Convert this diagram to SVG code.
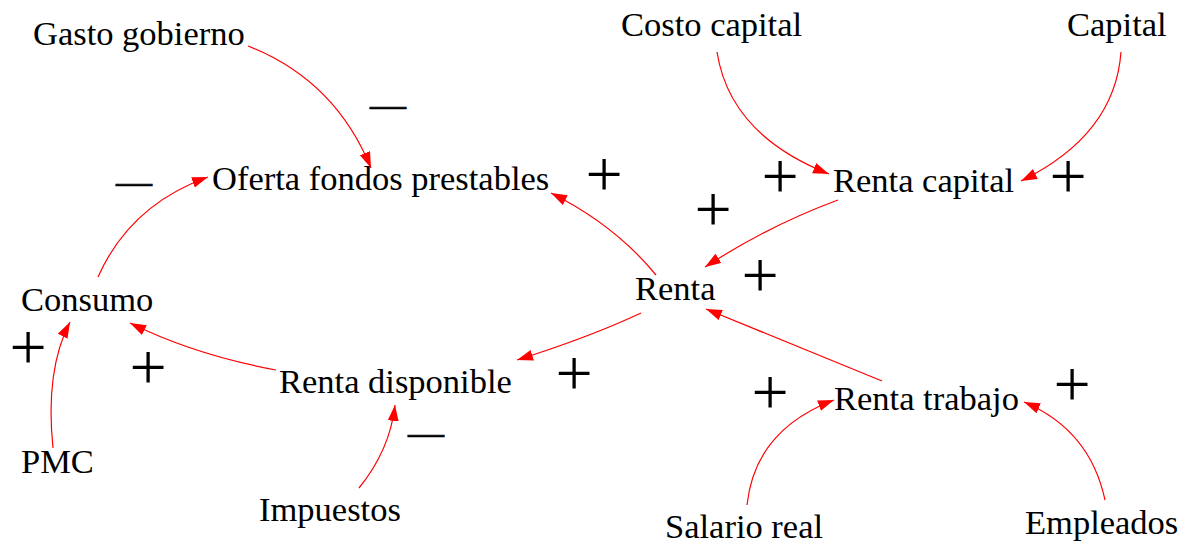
<svg xmlns="http://www.w3.org/2000/svg" width="1196" height="544" viewBox="0 0 1196 544">
<defs>
<style>
.n{font-family:"Liberation Serif","Times New Roman",serif;font-size:34.5px;fill:#000}
.s{font-family:"Liberation Serif","Times New Roman",serif;font-size:66px;fill:#000;text-anchor:middle}
.m{font-family:"Liberation Serif","Times New Roman",serif;font-size:36px;fill:#000;stroke:#000;stroke-width:0.7;text-anchor:middle}
.c{fill:none;stroke:#ff0000;stroke-width:1.2}
</style>
<marker id="ah" markerUnits="userSpaceOnUse" markerWidth="17" markerHeight="12" refX="16" refY="5.5" orient="auto">
<path d="M0,0 L16,5.5 L0,11 Z" fill="#ff0000"/>
</marker>
</defs>
<rect width="1196" height="544" fill="#ffffff"/>
<g id="connectors">
<path class="c" marker-end="url(#ah)" d="M248,46 Q335,80 371,168"/>
<path class="c" marker-end="url(#ah)" d="M98,277 Q130,205 208,177"/>
<path class="c" marker-end="url(#ah)" d="M656,275 Q615,225 551,193"/>
<path class="c" marker-end="url(#ah)" d="M717,52 Q730,135 829,174"/>
<path class="c" marker-end="url(#ah)" d="M1121,52 Q1115,135 1021,181"/>
<path class="c" marker-end="url(#ah)" d="M838,200 Q770,225 705,267"/>
<path class="c" marker-end="url(#ah)" d="M641,313 Q590,337 517,360"/>
<path class="c" marker-end="url(#ah)" d="M276,370 Q195,355 130,323"/>
<path class="c" marker-end="url(#ah)" d="M53,448 Q45,370 70,322"/>
<path class="c" marker-end="url(#ah)" d="M359,488 Q390,450 395,405"/>
<path class="c" marker-end="url(#ah)" d="M882,381 L706,309"/>
<path class="c" marker-end="url(#ah)" d="M747,505 Q755,430 834,400"/>
<path class="c" marker-end="url(#ah)" d="M1105,500 Q1090,430 1024,402"/>
</g>
<g id="gasto"><text class="n" x="33" y="45">Gasto gobierno</text></g>
<g id="oferta"><text class="n" x="212" y="190">Oferta fondos prestables</text></g>
<g id="costo"><text class="n" x="621" y="36">Costo capital</text></g>
<g id="capital"><text class="n" x="1067" y="36">Capital</text></g>
<g id="rentacapital"><text class="n" x="833" y="192">Renta capital</text></g>
<g id="consumo"><text class="n" x="21" y="311">Consumo</text></g>
<g id="renta"><text class="n" x="635" y="300">Renta</text></g>
<g id="rentadisp"><text class="n" x="279" y="393">Renta disponible</text></g>
<g id="rentatrabajo"><text class="n" x="834" y="410">Renta trabajo</text></g>
<g id="pmc"><text class="n" x="21" y="473">PMC</text></g>
<g id="impuestos"><text class="n" x="259" y="521">Impuestos</text></g>
<g id="salario"><text class="n" x="665" y="538">Salario real</text></g>
<g id="empleados"><text class="n" x="1025" y="534">Empleados</text></g>
<g id="signs">
<text class="m" x="388" y="117">—</text>
<text class="m" x="134" y="194">—</text>
<text class="s" x="604" y="196">+</text>
<text class="s" x="780" y="198">+</text>
<text class="s" x="1068" y="198">+</text>
<text class="s" x="713" y="231">+</text>
<text class="s" x="760" y="297">+</text>
<text class="s" x="28" y="369">+</text>
<text class="s" x="148" y="389">+</text>
<text class="s" x="574" y="395">+</text>
<text class="s" x="770" y="414">+</text>
<text class="s" x="1072" y="406">+</text>
<text class="m" x="426" y="445">—</text>
</g>
</svg>
